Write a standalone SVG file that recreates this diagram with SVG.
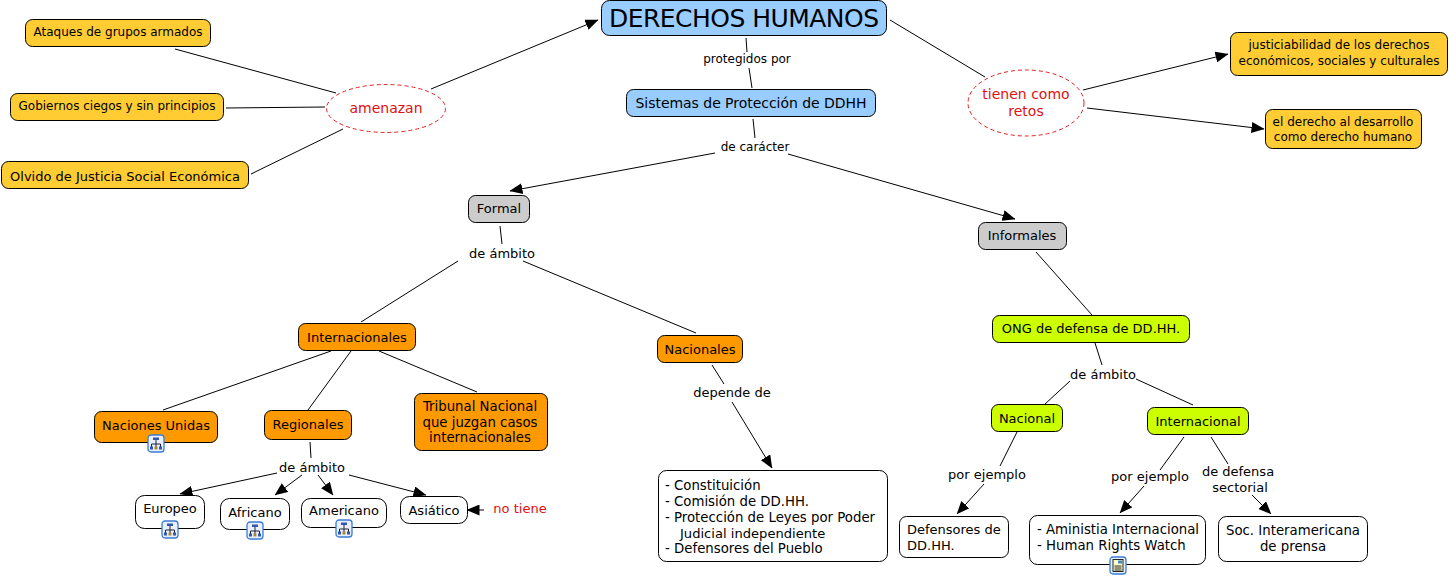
<svg xmlns="http://www.w3.org/2000/svg" width="1449" height="576" viewBox="0 0 1449 576">
<style>
text{font-family:"DejaVu Sans",Verdana,sans-serif;font-size:13px;fill:#000;text-anchor:middle}
.n{stroke:#000;stroke-width:1}
.y{fill:#ffcc33}.b{fill:#99ccff}.g{fill:#cccccc}.o{fill:#ff9900}.l{fill:#ccff00}.w{fill:#fff}
.e{fill:#fff;stroke:#e02020;stroke-width:1;stroke-dasharray:4 3}
text.r{fill:#e01010;font-size:14px}
text.s{text-anchor:start}
text.m{font-size:13.3px}
.s12{font-size:12px}
#connectors path{fill:none;stroke:#000;stroke-width:1}
</style>
<defs>
<marker id="a" markerUnits="userSpaceOnUse" markerWidth="13" markerHeight="11" refX="12.500" refY="5.500" orient="auto"><path d="M0 0L13 5.500L0 11Z" fill="#000"/></marker>
<g id="ic"><rect x="0" y="0" width="16" height="17" rx="3" fill="#e8f0ff" stroke="#3a7bd5" stroke-width="1.3"/><path d="M8 4V9M3.500 13V9H12.500V13M8 9V13" fill="none" stroke="#223" stroke-width="1"/><rect x="5" y="2.500" width="6" height="2.500" fill="#35a"/><rect x="2" y="11.500" width="3" height="3" fill="#35a"/><rect x="6.500" y="11.500" width="3" height="3" fill="#a83"/><rect x="11" y="11.500" width="3" height="3" fill="#35a"/></g>
<g id="doc"><rect x="0" y="0" width="16" height="17" rx="3" fill="#e8f0ff" stroke="#3a7bd5" stroke-width="1.3"/><rect x="3" y="2.500" width="10" height="12" fill="#ffffc8" stroke="#222" stroke-width="1"/><path d="M4.500 9H11.500M4.500 11H11.500M4.500 13H11.500" stroke="#222" stroke-width="1"/><rect x="8" y="3.500" width="4" height="3" fill="#48c"/></g>
</defs>
<g id="connectors">
<path d="M175 49L336 93"/><path d="M226 108L325 107"/><path d="M251 174L343 129"/>
<path d="M431 89L598 20" marker-end="url(#a)"/>
<path d="M746 38L747 52"/><path d="M749 68L752 88"/>
<path d="M890 20L985 77"/>
<path d="M1083 90L1228 54" marker-end="url(#a)"/><path d="M1087 108L1264 129" marker-end="url(#a)"/>
<path d="M753 119L755 138"/>
<path d="M715 153L510 191" marker-end="url(#a)"/><path d="M788 154L1015 219" marker-end="url(#a)"/>
<path d="M500 226L502 244"/>
<path d="M458 261L361 322"/><path d="M523 261L696 333"/>
<path d="M331 351L163 410"/><path d="M351 351L308 410"/><path d="M379 351L477 392"/>
<path d="M310 442L311 458"/>
<path d="M277 473L180 494" marker-end="url(#a)"/><path d="M302 475L275 495" marker-end="url(#a)"/><path d="M318 475L333 495" marker-end="url(#a)"/><path d="M349 475L426 495" marker-end="url(#a)"/>
<path d="M484 510L467 510" marker-end="url(#a)"/>
<path d="M712 365L724 384"/><path d="M732 402L772 468" marker-end="url(#a)"/>
<path d="M1036 252L1092 315"/>
<path d="M1095 343L1102 365"/>
<path d="M1070 381L1045 404"/><path d="M1136 379L1193 405"/>
<path d="M1017 432L1000 466"/><path d="M984 484L957 514" marker-end="url(#a)"/>
<path d="M1184 437L1160 470"/><path d="M1144 486L1120 513" marker-end="url(#a)"/>
<path d="M1211 437L1228 464"/><path d="M1252 495L1271 514" marker-end="url(#a)"/>
</g>
<g id="n1"><rect class="n y" x="25.500" y="19.500" width="185" height="27" rx="7"/><text x="118" y="36" class="s12">Ataques de grupos armados</text></g>
<g id="n2"><rect class="n y" x="10.500" y="93.500" width="213" height="27" rx="7"/><text x="117" y="110" class="s12">Gobiernos ciegos y sin principios</text></g>
<g id="n3"><rect class="n y" x="1.500" y="161.500" width="247" height="27" rx="7"/><text x="125" y="181">Olvido de Justicia Social Económica</text></g>
<g id="n4"><ellipse class="e" cx="386" cy="108.500" rx="59.500" ry="24"/><text x="386" y="113" class="r">amenazan</text></g>
<g id="n5"><rect class="n b" x="601.500" y="0.500" width="285" height="35" rx="8"/><text x="744" y="27" style="font-size:25px" textLength="270">DERECHOS HUMANOS</text></g>
<g id="n6"><rect class="n b" x="626.500" y="89.500" width="249" height="27" rx="7"/><text x="751" y="108" style="font-size:14px" textLength="231">Sistemas de Protección de DDHH</text></g>
<g id="n7"><ellipse class="e" cx="1026" cy="103" rx="58" ry="33"/><text x="1026" y="99" class="r">tienen como</text><text x="1026" y="116" class="r">retos</text></g>
<g id="n8"><rect class="n y" x="1230.500" y="32.500" width="217" height="43" rx="7"/><text x="1339" y="49" class="s12">justiciabilidad de los derechos</text><text x="1339" y="65" class="s12">económicos, sociales y culturales</text></g>
<g id="n9"><rect class="n y" x="1265.500" y="109.500" width="156" height="39" rx="7"/><text x="1343" y="126" class="s12">el derecho al desarrollo</text><text x="1343" y="141" class="s12">como derecho humano</text></g>
<g id="n10"><rect class="n g" x="468.500" y="195.500" width="61" height="27" rx="7"/><text x="499" y="213">Formal</text></g>
<g id="n11"><rect class="n g" x="978.500" y="222.500" width="88" height="27" rx="7"/><text x="1022" y="240">Informales</text></g>
<g id="n12"><rect class="n o" x="298.500" y="323.500" width="117" height="27" rx="7"/><text x="357" y="342">Internacionales</text></g>
<g id="n13"><rect class="n o" x="657.500" y="335.500" width="85" height="27" rx="7"/><text x="700" y="354">Nacionales</text></g>
<g id="n14"><rect class="n l" x="992.500" y="315.500" width="197" height="27" rx="7"/><text x="1091" y="333">ONG de defensa de DD.HH.</text></g>
<g id="n15"><rect class="n o" x="94.500" y="411.500" width="123" height="31" rx="7"/><text x="156" y="430">Naciones Unidas</text><use href="#ic" x="148" y="435"/></g>
<g id="n16"><rect class="n o" x="264.500" y="410.500" width="87" height="29" rx="7"/><text x="308" y="429">Regionales</text></g>
<g id="n17"><rect class="n o" x="414.500" y="393.500" width="133" height="57" rx="7"/><text x="480" y="411" class="m">Tribunal Nacional</text><text x="480" y="427" class="m">que juzgan casos</text><text x="480" y="442" class="m">internacionales</text></g>
<g id="n18"><rect class="n w" x="135.500" y="495.500" width="69" height="33" rx="9"/><text x="170" y="513">Europeo</text><use href="#ic" x="162" y="521"/></g>
<g id="n19"><rect class="n w" x="220.500" y="498.500" width="69" height="31" rx="9"/><text x="255" y="517">Africano</text><use href="#ic" x="247" y="522"/></g>
<g id="n20"><rect class="n w" x="301.500" y="498.500" width="85" height="29" rx="9"/><text x="344" y="515">Americano</text><use href="#ic" x="336" y="520"/></g>
<g id="n21"><rect class="n w" x="400.500" y="496.500" width="67" height="27" rx="9"/><text x="434" y="515">Asiático</text></g>
<g id="n22"><text x="520" y="513" class="r" style="font-size:13px">no tiene</text></g>
<g id="n23"><rect class="n w" x="658.500" y="470.500" width="229" height="91" rx="8"/><text x="665" y="490" class="s m">- Constituición</text><text x="665" y="506" class="s m">- Comisión de DD.HH.</text><text x="665" y="522" class="s m">- Protección de Leyes por Poder</text><text x="680" y="538" class="s" style="font-size:13.100px">Judicial independiente</text><text x="665" y="553" class="s m">- Defensores del Pueblo</text></g>
<g id="n24"><rect class="n l" x="991.500" y="404.500" width="71" height="27" rx="7"/><text x="1027" y="423">Nacional</text></g>
<g id="n25"><rect class="n l" x="1147.500" y="407.500" width="101" height="27" rx="7"/><text x="1198" y="426">Internacional</text></g>
<g id="n26"><rect class="n w" x="899.500" y="516.500" width="109" height="41" rx="7"/><text x="907" y="534" class="s">Defensores de</text><text x="907" y="550" class="s">DD.HH.</text></g>
<g id="n27"><rect class="n w" x="1029.500" y="515.500" width="176" height="49" rx="8"/><text x="1037" y="534" class="s m">- Aministia Internacional</text><text x="1037" y="550" class="s m">- Human Rights Watch</text><use href="#doc" x="1110" y="557"/></g>
<g id="n28"><rect class="n w" x="1218.500" y="516.500" width="149" height="45" rx="8"/><text x="1293" y="535" class="m">Soc. Interamericana</text><text x="1293" y="551" class="m">de prensa</text></g>
<g id="labels">
<text x="747" y="63" class="s12">protegidos por</text>
<text x="755" y="151" class="s12">de carácter</text>
<text x="502" y="258">de ámbito</text>
<text x="312" y="472">de ámbito</text>
<text x="732" y="397">depende de</text>
<text x="1103" y="379">de ámbito</text>
<text x="987" y="479">por ejemplo</text>
<text x="1150" y="481">por ejemplo</text>
<text x="1238" y="476">de defensa</text>
<text x="1240" y="492">sectorial</text>
</g>
</svg>
